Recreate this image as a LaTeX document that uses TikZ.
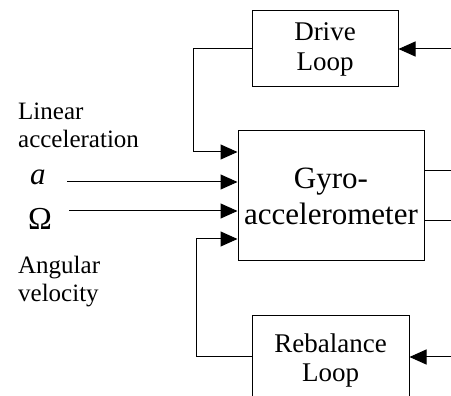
\documentclass[tikz,border=0pt]{standalone}
\usepackage{fontspec}
\setmainfont{Liberation Serif}
\usetikzlibrary{arrows.meta}

\begin{document}
\begin{tikzpicture}[x=1pt,y=-1pt,
    bloco/.style={draw, line width=1pt, inner sep=0pt, align=center},
    sinal/.style={line width=1pt, -{Triangle[length=17pt,width=15pt]}},
    rotulo/.style={inner sep=0pt, align=left, font=\fontsize{25}{28}\selectfont}]

    \useasboundingbox (0,0) rectangle (451,396);
    \clip (0,0) rectangle (451,396);

    % drive loop
    \node[bloco, minimum width=146pt, minimum height=76pt,
          font=\fontsize{27}{30}\selectfont] (drive) at (325,49) {Drive\\Loop};

    % gyro
    \node[bloco, minimum width=186pt, minimum height=130pt,
          font=\fontsize{31}{36}\selectfont] (gyro) at (331,196) {Gyro-\\accelerometer};

    % rebalance loop
    \node[bloco, minimum width=157pt, minimum height=90pt,
          font=\fontsize{27}{29}\selectfont] (rebal) at (330.5,361) {Rebalance\\Loop};

    % entradas
    \node[rotulo, anchor=north west] (lin) at (18,103) {Linear\\acceleration};
    \node[inner sep=0pt, anchor=base west, font=\fontsize{31}{33}\selectfont\itshape] (acc) at (30,185) {a};
    \node[inner sep=0pt, anchor=base west, font=\fontsize{32}{34}\selectfont] (omega) at (28,230) {Ω};
    \node[rotulo, anchor=north west] (ang) at (18,256) {Angular\\velocity};

    \coordinate (accIni) at (67,182);
    \coordinate (omegaIni) at (69,211);
    \draw[sinal] (accIni) -- (accIni -| gyro.west);
    \draw[sinal] (omegaIni) -- (omegaIni -| gyro.west);

    % laco de acionamento
    \coordinate (driveCanto) at (193,152);
    \draw[sinal] (drive.west) -| (driveCanto) -- (driveCanto -| gyro.west);
    \coordinate (driveFonte) at (451,49);
    \draw[sinal] (driveFonte) -- (drive.east);

    % laco de rebalanceamento
    \coordinate (rebalCanto) at (196,239);
    \draw[sinal] (rebal.west |- 0,357) -| (rebalCanto) -- (rebalCanto -| gyro.west);
    \coordinate (rebalFonte) at (451,357);
    \draw[sinal] (rebalFonte) -- (rebalFonte -| rebal.east);

    % saidas
    \coordinate (saidaA) at (451,171);
    \coordinate (saidaB) at (451,221);
    \draw[line width=1pt] (saidaA -| gyro.east) -- (saidaA);
    \draw[line width=1pt] (saidaB -| gyro.east) -- (saidaB);

\end{tikzpicture}
\end{document}
